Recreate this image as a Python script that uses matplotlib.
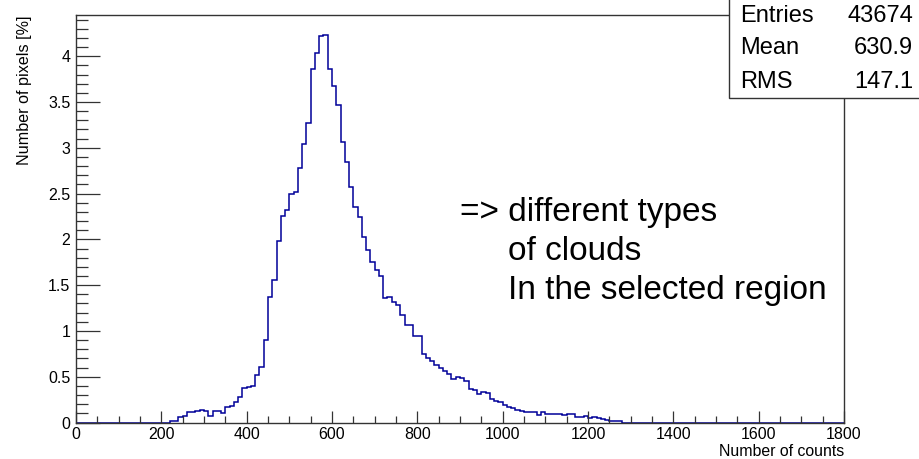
import numpy as np
import matplotlib
matplotlib.use("Agg")
import matplotlib.pyplot as plt
from matplotlib.patches import Rectangle
from matplotlib.ticker import MultipleLocator

plt.rcParams["font.family"] = ["Liberation Sans", "DejaVu Sans"]

# histogram settings (bins of 10 counts, 0..1800)
x_min, x_max, bin_width = 0, 1800, 10
first_bin = 200  # first value below starts at this count

# percentage of pixels per bin (from 200 upward)
pixels_pct = [
    0, 0, 0.015, 0.015, 0.058, 0.073, 0.11, 0.116, 0.127, 0.142,       # 200-290
    0.124, 0.069, 0.124, 0.131, 0.10, 0.164, 0.178, 0.229, 0.28, 0.375,  # 300-390
    0.389, 0.396, 0.516, 0.611, 0.90, 1.375, 1.56, 1.98, 2.25, 2.32,    # 400-490
    2.49, 2.52, 2.78, 3.04, 3.27, 3.86, 4.03, 4.22, 4.23, 3.86,         # 500-590
    3.68, 3.47, 3.06, 2.84, 2.57, 2.35, 2.24, 2.03, 1.88, 1.75,         # 600-690
    1.66, 1.60, 1.36, 1.37, 1.32, 1.28, 1.17, 1.07, 1.06, 0.95,         # 700-790
    0.94, 0.75, 0.70, 0.67, 0.63, 0.60, 0.56, 0.53, 0.48, 0.50,         # 800-890
    0.49, 0.45, 0.37, 0.36, 0.31, 0.33, 0.32, 0.26, 0.24, 0.22,         # 900-990
    0.19, 0.17, 0.155, 0.14, 0.125, 0.11, 0.11, 0.115, 0.085, 0.115,    # 1000-1090
    0.088, 0.09, 0.088, 0.09, 0.085, 0.095, 0.095, 0.057, 0.057, 0.07,  # 1100-1190
    0.05, 0.057, 0.05, 0.037, 0.026, 0.015, 0.015, 0.02,                # 1200-1270
]

stats_names = ["Entries", "Mean", "RMS"]
stats_values = ["43674", "630.9", "147.1"]

note_lines = ["=> different types", "of clouds", "In the selected region"]

# full histogram, zeros where nothing is drawn
edges = np.arange(x_min, x_max + bin_width, bin_width)
values = np.zeros(len(edges) - 1)
start = (first_bin - x_min) // bin_width
values[start:start + len(pixels_pct)] = pixels_pct

fig = plt.figure(figsize=(9.19, 4.59), dpi=100)
ax = fig.add_axes([0.0827, 0.0795, 0.8357, 0.8878])

ax.stairs(values, edges, color="#000099", linewidth=1.1)

ax.set_xlim(x_min, x_max)
ax.set_ylim(0, 4.45)
ax.xaxis.set_major_locator(MultipleLocator(200))
ax.xaxis.set_minor_locator(MultipleLocator(50))
ax.yaxis.set_major_locator(MultipleLocator(0.5))
ax.yaxis.set_minor_locator(MultipleLocator(0.1))
ax.yaxis.set_major_formatter(plt.FuncFormatter(lambda v, p: f"{v:g}"))

ax.tick_params(axis="both", which="both", direction="in", colors="#333333",
               labelcolor="black", labelsize=11.5, width=0.9)
ax.tick_params(axis="x", which="major", length=8.6, pad=3)
ax.tick_params(axis="x", which="minor", length=5)
ax.tick_params(axis="y", which="major", length=17, pad=4)
ax.tick_params(axis="y", which="minor", length=8.6)
for s in ax.spines.values():
    s.set_color("#333333")
    s.set_linewidth(1)

ax.set_xlabel("Number of counts", loc="right", fontsize=11.4, labelpad=2)
ax.set_ylabel("Number of pixels [%]", loc="top", fontsize=11.6, labelpad=12)

# note text
ax.text(460 / 919, 1 - 212 / 459, note_lines[0], transform=fig.transFigure,
        fontsize=24, va="center", ha="left")
ax.text(508 / 919, 1 - 251 / 459, note_lines[1], transform=fig.transFigure,
        fontsize=24, va="center", ha="left")
ax.text(508 / 919, 1 - 291 / 459, note_lines[2], transform=fig.transFigure,
        fontsize=24, va="center", ha="left")

# stats box in the top right corner
box = Rectangle((729 / 919, 1 - 98 / 459), 0.3, 0.3, transform=fig.transFigure,
                facecolor="white", edgecolor="#333333", linewidth=1, zorder=10)
fig.add_artist(box)
rows_y = [16, 48, 82]
for name, val, yy in zip(stats_names, stats_values, rows_y):
    fig.text(740 / 919, 1 - yy / 459, name, fontsize=17, va="center",
             ha="left", zorder=11)
    fig.text(913 / 919, 1 - yy / 459, val, fontsize=17, va="center",
             ha="right", zorder=11)

fig.savefig("out.png", dpi=100)
